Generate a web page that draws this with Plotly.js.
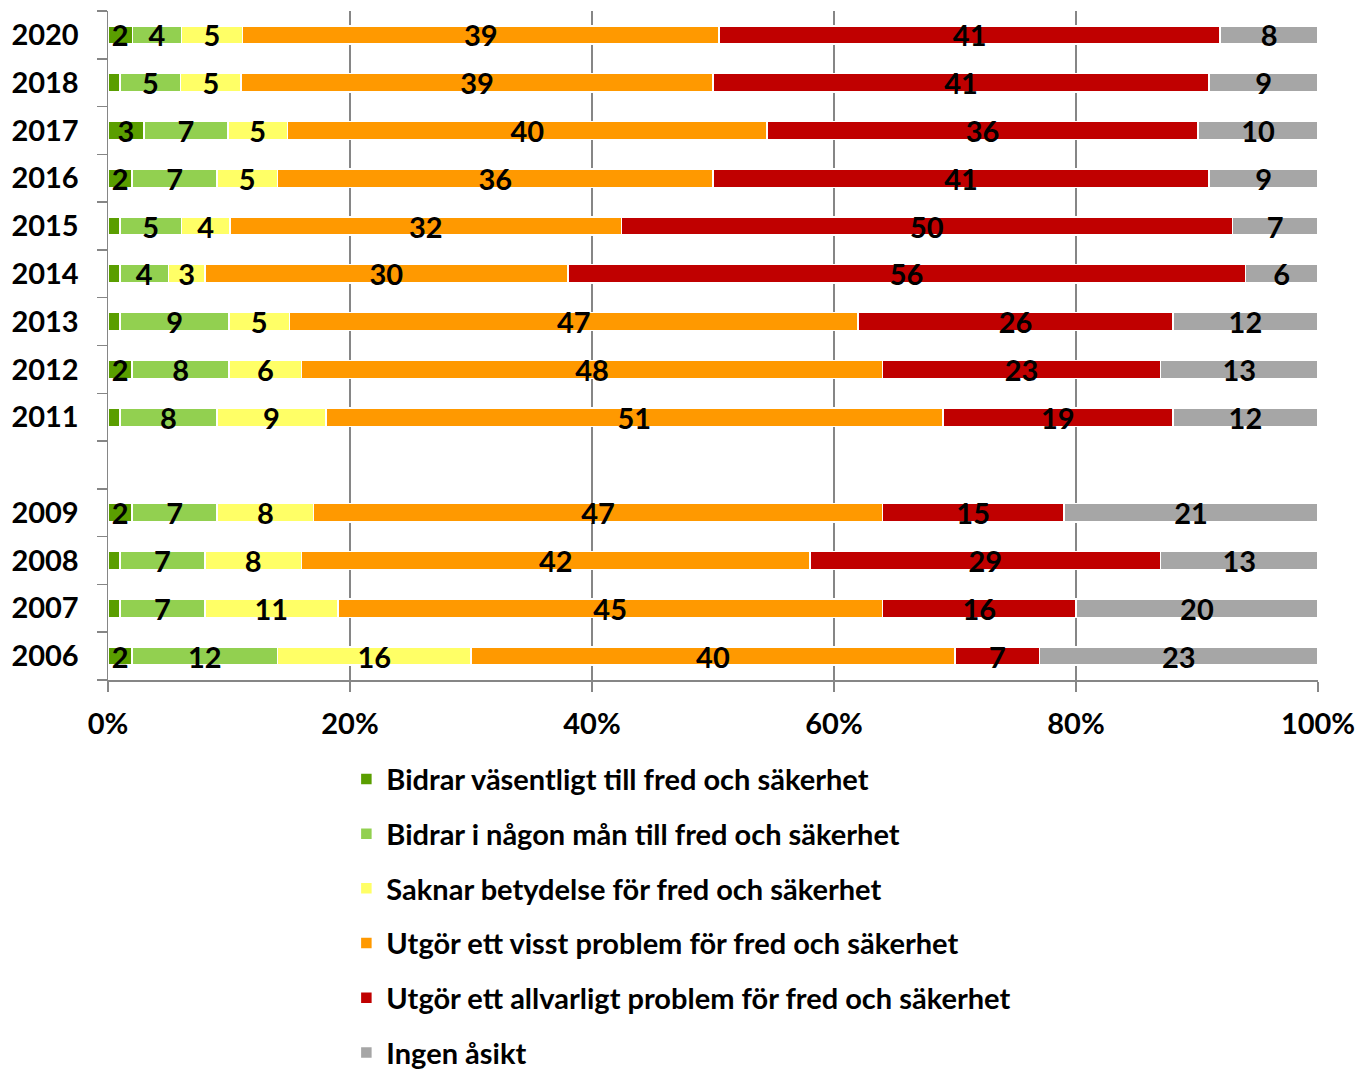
<!DOCTYPE html>
<html>
<head>
<meta charset="utf-8">
<script src="https://cdn.plot.ly/plotly-3.0.1.min.js"></script>
<style>html,body{margin:0;padding:0;background:#fff;}#chart{width:1357px;height:1070px;}</style>
</head>
<body>
<div id="chart"></div>
<script>
// Categories (top to bottom); 2010 is an empty slot in the original
var years = ['2020','2018','2017','2016','2015','2014','2013','2012','2011','2010','2009','2008','2007','2006'];
var yearLabels = ['2020','2018','2017','2016','2015','2014','2013','2012','2011','','2009','2008','2007','2006'];

var xTickVals = [0, 20, 40, 60, 80, 100];
var xTickText = ['0%', '20%', '40%', '60%', '80%', '100%'];

var seriesNames = [
  'Bidrar väsentligt till fred och säkerhet',
  'Bidrar i någon mån till fred och säkerhet',
  'Saknar betydelse för fred och säkerhet',
  'Utgör ett visst problem för fred och säkerhet',
  'Utgör ett allvarligt problem för fred och säkerhet',
  'Ingen åsikt'
];
var seriesColors = ['#5a9e00','#92d050','#ffff66','#ff9900','#c00000','#a6a6a6'];

var bidrarVasentligt = [2, 1, 3, 2, 1, 1, 1, 2, 1, null, 2, 1, 1, 2];
var bidrarNagonMan   = [4, 5, 7, 7, 5, 4, 9, 8, 8, null, 7, 7, 7, 12];
var saknarBetydelse  = [5, 5, 5, 5, 4, 3, 5, 6, 9, null, 8, 8, 11, 16];
var visstProblem     = [39, 39, 40, 36, 32, 30, 47, 48, 51, null, 47, 42, 45, 40];
var allvarligtProblem= [41, 41, 36, 41, 50, 56, 26, 23, 19, null, 15, 29, 16, 7];
var ingenAsikt       = [8, 9, 10, 9, 7, 6, 12, 13, 12, null, 21, 13, 20, 23];

var seriesValues = [bidrarVasentligt, bidrarNagonMan, saknarBetydelse, visstProblem, allvarligtProblem, ingenAsikt];

var FONT = 'Lato, "Open Sans", sans-serif';

var traces = seriesValues.map(function(vals, i){
  return {
    type: 'bar',
    orientation: 'h',
    name: seriesNames[i],
    legendgroup: 'g' + i,
    y: years,
    x: vals,
    text: vals.map(function(v){ return (v !== null && v >= 2) ? String(v) : ''; }),
    textposition: 'inside',
    insidetextanchor: 'middle',
    textangle: 0,
    constraintext: 'none',
    cliponaxis: false,
    textfont: {family: FONT, size: 29, color: '#000', weight: 'bold'},
    marker: {color: seriesColors[i], line: {color: '#ffffff', width: 1.5}},
    hoverinfo: 'skip'
  };
});

var layout = {
  width: 1357,
  height: 1070,
  margin: {l: 108, r: 39, t: 11, b: 390, autoexpand: false},
  paper_bgcolor: '#ffffff',
  plot_bgcolor: '#ffffff',
  barmode: 'stack',
  barnorm: 'percent',
  bargap: 0.62,
  showlegend: true,
  font: {family: FONT, color: '#000'},
  xaxis: {
    range: [0, 100.0005],
    tickmode: 'array',
    tickvals: xTickVals,
    ticktext: xTickText,
    showgrid: true,
    gridcolor: '#868686',
    gridwidth: 1.5,
    showline: true,
    linecolor: '#868686',
    linewidth: 1.5,
    ticks: 'outside',
    ticklen: 10,
    tickcolor: '#868686',
    tickwidth: 1.5,
    zeroline: false,
    tickfont: {family: FONT, size: 29, color: '#000', weight: 'bold'},
    ticklabelstandoff: 8,
    fixedrange: true
  },
  yaxis: {
    type: 'category',
    categoryorder: 'array',
    categoryarray: years,
    tickmode: 'array',
    tickvals: years,
    ticktext: yearLabels,
    autorange: 'reversed',
    showgrid: false,
    showline: true,
    linecolor: '#868686',
    linewidth: 1.5,
    ticks: 'outside',
    tickson: 'boundaries',
    ticklen: 10,
    tickcolor: '#868686',
    tickwidth: 1.5,
    zeroline: false,
    tickfont: {family: FONT, size: 29, color: '#000', weight: 'bold'},
    ticklabelstandoff: 22,
    fixedrange: true
  },
  legend: {
    orientation: 'v',
    x: 0.197,
    xanchor: 'left',
    y: -0.110,
    yanchor: 'top',
    traceorder: 'grouped',
    tracegroupgap: 14,
    font: {family: FONT, size: 29, color: '#000', weight: 'bold'},
    bgcolor: 'rgba(0,0,0,0)'
  }
};

Plotly.newPlot('chart', traces, layout, {displayModeBar: false, staticPlot: true});
</script>
</body>
</html>
